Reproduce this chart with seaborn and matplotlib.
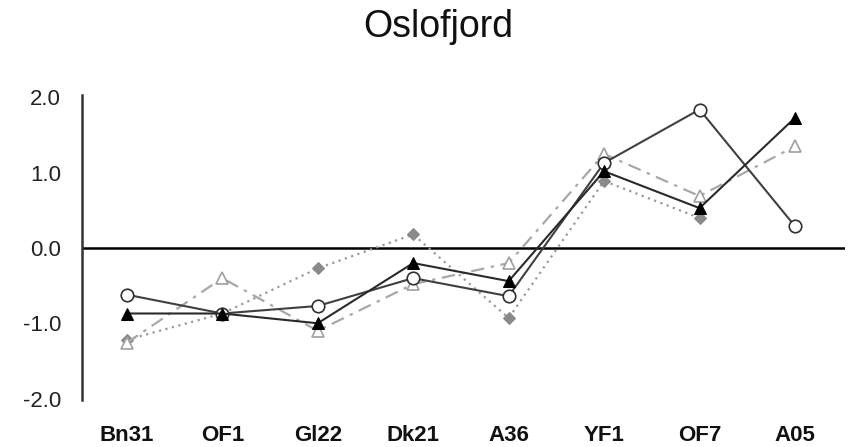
import numpy as np
import pandas as pd
import seaborn as sns
import matplotlib.pyplot as plt

sites = ["Bn31", "OF1", "Gl22", "Dk21", "A36", "YF1", "OF7", "A05"]

circle_vals = [-0.62, -0.87, -0.77, -0.40, -0.64, 1.13, 1.84, 0.29]
black_tri_vals = [-0.87, -0.87, -1.00, -0.20, -0.44, 1.02, 0.53, 1.73]
open_tri_vals = [-1.26, -0.40, -1.10, -0.48, -0.20, 1.25, 0.69, 1.35]
diamond_vals = [-1.22, -0.87, -0.27, 0.18, -0.93, 0.89, 0.40, np.nan]

sns.set_style("white")
plt.rcParams["font.family"] = ["Liberation Sans", "DejaVu Sans"]

fig = plt.figure(figsize=(8.54, 4.47), dpi=100)
ax = fig.add_axes([0.096, 0.105, 0.893, 0.682])

x = np.arange(len(sites))
ax.axhline(0, color="black", lw=1.8, zorder=1)

# dotted grey diamonds
df = pd.DataFrame({"x": x, "y": diamond_vals})
sns.lineplot(data=df, x="x", y="y", ax=ax, color="#9a9a9a", lw=1.6, linestyle=(0, (1, 2)),
             marker="D", markersize=6, markeredgecolor="#8a8a8a", markerfacecolor="#8a8a8a", zorder=2)

# dash-dot grey open triangles
df = pd.DataFrame({"x": x, "y": open_tri_vals})
sns.lineplot(data=df, x="x", y="y", ax=ax, color="#a8a8a8", lw=1.6, linestyle=(0, (6, 3, 1.5, 3)),
             marker="^", markersize=8, markeredgecolor="#a0a0a0", markerfacecolor="white",
             markeredgewidth=1.2, zorder=3)

# solid open circles
df = pd.DataFrame({"x": x, "y": circle_vals})
sns.lineplot(data=df, x="x", y="y", ax=ax, color="#404040", lw=1.5,
             marker="o", markersize=9, markeredgecolor="#303030", markerfacecolor="white",
             markeredgewidth=1.2, zorder=4)

# solid black triangles
df = pd.DataFrame({"x": x, "y": black_tri_vals})
sns.lineplot(data=df, x="x", y="y", ax=ax, color="#2a2a2a", lw=1.5,
             marker="^", markersize=8, markeredgecolor="black", markerfacecolor="black", zorder=5)

ax.set_xlim(-0.47, 7.52)
ax.set_ylim(-2.02, 2.03)
ax.set_yticks([-2, -1, 0, 1, 2])
ax.set_yticklabels(["-2.0", "-1.0", "0.0", "1.0", "2.0"], fontsize=16, color="#222222")
ax.set_xticks(x)
ax.set_xticklabels(sites, fontsize=16, fontweight="bold", color="#111111")
ax.tick_params(axis="both", length=0)
ax.tick_params(axis="x", pad=18)
ax.tick_params(axis="y", pad=15)
ax.set_xlabel("")
ax.set_ylabel("")
for s in ["top", "right", "bottom"]:
    ax.spines[s].set_visible(False)
ax.spines["left"].set_color("#333333")
ax.spines["left"].set_linewidth(1.8)

fig.text(0.513, 0.94, "Oslofjord", ha="center", va="center", fontsize=27, color="#111111")

fig.savefig("out.png", dpi=100)
